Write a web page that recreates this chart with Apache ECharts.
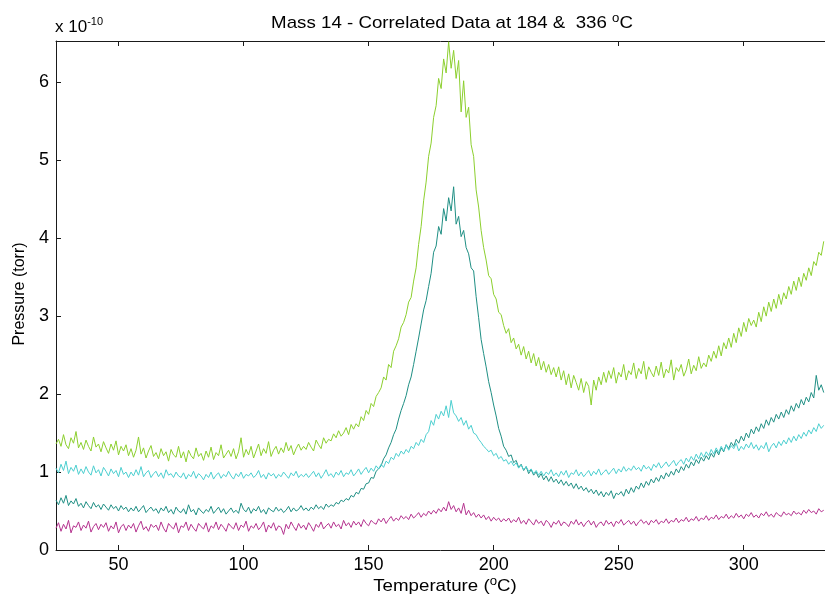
<!DOCTYPE html>
<html>
<head>
<meta charset="utf-8">
<script src="https://cdn.jsdelivr.net/npm/echarts@6/dist/echarts.min.js"></script>
<style>
  html, body { margin: 0; padding: 0; background: #fff; }
  #main { width: 825px; height: 596px; }
</style>
</head>
<body>
<div id="main"></div>
<script>
// temperatures run from 25 to 332 degC in 1 degC steps; values in units of 1e-10 torr
var startTemp = 25;

var xTicks = [50, 100, 150, 200, 250, 300];
var yTicks = [0, 1, 2, 3, 4, 5, 6];

var greenVals = [
  1.36,1.42,1.33,1.48,1.35,1.30,1.44,1.37,1.52,1.31,
  1.38,1.29,1.41,1.33,1.27,1.45,1.32,1.36,1.26,1.39,
  1.31,1.24,1.36,1.28,1.40,1.22,1.33,1.27,1.35,1.21,
  1.30,1.19,1.28,1.45,1.23,1.31,1.18,1.27,1.34,1.20,
  1.25,1.17,1.30,1.21,1.26,1.14,1.29,1.22,1.19,1.33,
  1.18,1.26,1.13,1.28,1.21,1.17,1.31,1.20,1.24,1.15,
  1.27,1.19,1.32,1.16,1.25,1.21,1.35,1.18,1.23,1.28,
  1.20,1.30,1.17,1.26,1.44,1.19,1.29,1.22,1.33,1.18,
  1.27,1.36,1.21,1.30,1.24,1.39,1.20,1.28,1.33,1.23,
  1.31,1.25,1.38,1.27,1.34,1.22,1.30,1.36,1.28,1.33,
  1.29,1.38,1.32,1.27,1.41,1.35,1.30,1.44,1.37,1.42,
  1.40,1.49,1.44,1.53,1.46,1.50,1.57,1.48,1.61,1.55,
  1.62,1.58,1.71,1.66,1.79,1.74,1.88,1.84,1.97,2.02,
  2.08,2.22,2.18,2.38,2.34,2.55,2.62,2.71,2.86,2.92,
  3.02,3.18,3.24,3.45,3.62,3.92,4.15,4.48,4.72,5.05,
  5.22,5.55,5.70,6.05,5.92,6.30,6.12,6.52,6.18,6.41,
  6.05,6.28,5.62,6.02,5.55,5.68,5.20,5.05,4.62,4.40,
  4.10,3.88,3.72,3.52,3.48,3.28,3.22,3.05,3.02,2.88,
  2.78,2.84,2.66,2.72,2.58,2.64,2.50,2.61,2.45,2.55,
  2.40,2.52,2.36,2.47,2.31,2.42,2.28,2.38,2.25,2.34,
  2.22,2.35,2.18,2.30,2.12,2.26,2.08,2.24,2.15,2.05,
  2.20,2.02,2.16,2.10,1.86,2.18,2.05,2.22,2.12,2.28,
  2.15,2.30,2.20,2.34,2.14,2.28,2.22,2.38,2.18,2.30,
  2.25,2.40,2.20,2.33,2.26,2.42,2.19,2.35,2.28,2.22,
  2.36,2.24,2.41,2.21,2.32,2.27,2.44,2.18,2.34,2.29,
  2.38,2.23,2.31,2.45,2.26,2.37,2.30,2.48,2.33,2.40,
  2.35,2.50,2.42,2.55,2.46,2.62,2.49,2.66,2.58,2.72,
  2.60,2.78,2.66,2.85,2.74,2.92,2.80,2.97,2.88,2.95,
  2.86,3.05,2.93,3.12,3.00,3.18,3.06,3.22,3.10,3.28,
  3.15,3.30,3.22,3.38,3.28,3.45,3.33,3.50,3.38,3.55,
  3.46,3.62,3.52,3.70,3.65,3.82,3.78,3.96
];

var tealVals = [
  0.64,0.58,0.67,0.60,0.70,0.57,0.63,0.59,0.66,0.56,
  0.60,0.54,0.62,0.57,0.53,0.61,0.55,0.58,0.52,0.59,
  0.55,0.51,0.58,0.53,0.56,0.50,0.57,0.52,0.55,0.49,
  0.54,0.50,0.56,0.49,0.53,0.57,0.48,0.52,0.55,0.50,
  0.53,0.47,0.54,0.50,0.56,0.48,0.52,0.46,0.55,0.50,
  0.48,0.53,0.46,0.58,0.49,0.52,0.45,0.54,0.50,0.47,
  0.52,0.49,0.56,0.47,0.51,0.55,0.48,0.53,0.46,0.50,
  0.54,0.48,0.51,0.47,0.60,0.52,0.49,0.55,0.47,0.53,
  0.50,0.56,0.48,0.52,0.46,0.54,0.51,0.49,0.55,0.50,
  0.53,0.48,0.51,0.56,0.49,0.54,0.50,0.52,0.57,0.51,
  0.54,0.50,0.55,0.52,0.58,0.53,0.56,0.52,0.59,0.55,
  0.58,0.56,0.61,0.59,0.64,0.62,0.66,0.64,0.70,0.68,
  0.74,0.72,0.79,0.78,0.85,0.86,0.93,0.92,1.01,1.04,
  1.08,1.17,1.22,1.31,1.38,1.48,1.55,1.68,1.79,1.88,
  1.98,2.12,2.22,2.38,2.55,2.72,2.90,3.08,3.20,3.38,
  3.55,3.82,3.90,4.15,4.05,4.38,4.22,4.52,4.35,4.66,
  4.18,4.28,4.02,4.10,3.88,3.80,3.62,3.58,3.25,2.98,
  2.70,2.52,2.35,2.16,2.02,1.86,1.72,1.56,1.46,1.33,
  1.28,1.20,1.22,1.12,1.15,1.06,1.10,1.02,1.07,0.98,
  1.03,0.96,1.00,0.93,0.98,0.90,0.95,0.88,0.94,0.87,
  0.91,0.85,0.90,0.83,0.88,0.82,0.86,0.79,0.85,0.78,
  0.82,0.76,0.80,0.74,0.78,0.72,0.77,0.70,0.75,0.68,
  0.74,0.70,0.76,0.66,0.73,0.71,0.75,0.69,0.78,0.72,
  0.80,0.74,0.82,0.78,0.86,0.80,0.88,0.83,0.91,0.86,
  0.93,0.88,0.96,0.91,0.99,0.94,1.01,0.96,1.04,0.99,
  1.07,1.02,1.10,1.05,1.13,1.08,1.16,1.11,1.19,1.14,
  1.21,1.16,1.24,1.19,1.28,1.22,1.31,1.26,1.35,1.30,
  1.38,1.33,1.42,1.37,1.46,1.40,1.50,1.44,1.55,1.49,
  1.58,1.52,1.62,1.56,1.67,1.60,1.70,1.64,1.74,1.68,
  1.77,1.70,1.80,1.74,1.85,1.78,1.88,1.82,1.93,1.86,
  1.96,1.90,2.02,1.95,2.24,2.05,2.12,2.02
];

var cyanVals = [
  1.05,0.99,1.10,1.02,1.14,0.98,1.06,1.01,1.09,0.97,
  1.04,0.98,1.07,1.00,0.96,1.08,0.99,1.03,0.95,1.06,
  1.01,0.95,1.04,0.98,1.02,0.94,1.06,0.97,1.00,0.93,
  1.00,0.95,1.03,0.96,1.07,0.94,0.99,1.02,0.93,0.98,
  1.01,0.94,0.99,0.92,1.03,0.96,0.98,0.93,1.00,0.95,
  0.93,0.99,0.91,0.97,0.94,1.01,0.92,0.98,0.95,0.90,
  0.97,0.93,1.00,0.91,0.96,0.99,0.92,0.97,0.94,1.01,
  0.95,0.91,0.98,0.94,1.00,0.92,0.97,0.95,0.99,0.93,
  0.96,1.02,0.93,0.97,0.91,0.99,0.95,0.98,0.92,0.97,
  0.94,1.00,0.96,0.92,0.99,0.95,1.01,0.93,0.97,0.94,
  0.98,0.93,0.97,1.01,0.94,0.99,0.92,0.97,1.03,0.95,
  0.98,0.93,1.00,0.96,1.02,0.94,0.99,0.97,1.03,0.95,
  0.99,1.04,0.97,1.02,1.06,0.99,1.05,1.01,1.08,1.04,
  1.10,1.06,1.14,1.11,1.19,1.16,1.24,1.20,1.27,1.23,
  1.29,1.25,1.33,1.30,1.38,1.34,1.42,1.38,1.48,1.52,
  1.66,1.60,1.74,1.68,1.78,1.72,1.85,1.70,1.92,1.76,
  1.72,1.65,1.70,1.60,1.66,1.55,1.60,1.50,1.48,1.42,
  1.38,1.33,1.30,1.26,1.28,1.21,1.24,1.17,1.20,1.14,
  1.16,1.10,1.14,1.08,1.12,1.05,1.09,1.03,1.07,1.01,
  1.04,0.98,1.02,0.96,1.01,0.95,1.00,0.97,1.03,0.95,
  0.99,0.94,1.01,0.96,1.02,0.93,0.99,0.97,1.03,0.95,
  1.00,0.94,0.98,1.02,0.95,1.01,0.97,1.04,0.96,1.00,
  1.03,0.97,1.01,1.05,0.98,1.04,1.00,1.07,1.01,1.05,
  1.02,1.08,1.03,1.06,1.01,1.09,1.04,1.07,1.02,1.10,
  1.06,1.12,1.05,1.09,1.13,1.07,1.11,1.15,1.08,1.13,
  1.16,1.10,1.18,1.13,1.20,1.15,1.23,1.17,1.25,1.19,
  1.26,1.21,1.29,1.23,1.31,1.25,1.33,1.27,1.35,1.28,
  1.34,1.30,1.37,1.27,1.33,1.29,1.36,1.31,1.38,1.30,
  1.35,1.28,1.34,1.30,1.38,1.26,1.33,1.37,1.31,1.39,
  1.34,1.41,1.36,1.44,1.38,1.46,1.40,1.48,1.43,1.51,
  1.46,1.54,1.49,1.57,1.52,1.62,1.56,1.60
];

var magentaVals = [
  0.28,0.35,0.24,0.33,0.27,0.38,0.22,0.31,0.29,0.36,
  0.25,0.32,0.28,0.37,0.23,0.30,0.34,0.26,0.33,0.29,
  0.35,0.24,0.31,0.27,0.36,0.22,0.30,0.33,0.25,0.32,
  0.28,0.34,0.23,0.31,0.37,0.26,0.30,0.24,0.33,0.29,
  0.32,0.25,0.36,0.28,0.23,0.34,0.30,0.27,0.35,0.22,
  0.31,0.29,0.36,0.25,0.33,0.28,0.24,0.34,0.30,0.27,
  0.35,0.23,0.31,0.28,0.36,0.26,0.33,0.29,0.24,0.34,
  0.30,0.27,0.35,0.25,0.32,0.29,0.37,0.24,0.31,0.28,
  0.34,0.26,0.30,0.36,0.23,0.32,0.28,0.35,0.25,0.31,
  0.29,0.20,0.33,0.27,0.36,0.30,0.25,0.34,0.28,0.32,
  0.26,0.35,0.30,0.24,0.33,0.29,0.36,0.27,0.31,0.34,
  0.28,0.36,0.30,0.33,0.27,0.38,0.31,0.35,0.29,0.37,
  0.32,0.36,0.30,0.39,0.34,0.31,0.38,0.35,0.33,0.40,
  0.36,0.41,0.34,0.39,0.43,0.37,0.41,0.38,0.44,0.40,
  0.43,0.39,0.46,0.41,0.44,0.48,0.42,0.47,0.44,0.50,
  0.46,0.51,0.47,0.53,0.49,0.55,0.50,0.62,0.52,0.57,
  0.49,0.54,0.47,0.60,0.45,0.51,0.44,0.48,0.42,0.46,
  0.41,0.45,0.39,0.43,0.37,0.42,0.38,0.41,0.36,0.40,
  0.37,0.41,0.35,0.39,0.36,0.42,0.34,0.38,0.33,0.40,
  0.36,0.32,0.39,0.34,0.37,0.31,0.38,0.35,0.29,0.36,
  0.33,0.38,0.31,0.36,0.34,0.30,0.37,0.33,0.39,0.32,
  0.36,0.30,0.35,0.38,0.32,0.37,0.29,0.34,0.36,0.31,
  0.38,0.33,0.36,0.30,0.37,0.34,0.39,0.32,0.35,0.38,
  0.33,0.37,0.31,0.36,0.39,0.34,0.37,0.32,0.38,0.35,
  0.39,0.33,0.37,0.35,0.40,0.34,0.38,0.36,0.41,0.35,
  0.39,0.37,0.42,0.36,0.40,0.38,0.43,0.37,0.41,0.39,
  0.44,0.38,0.42,0.40,0.45,0.39,0.43,0.41,0.46,0.40,
  0.44,0.41,0.47,0.42,0.45,0.40,0.46,0.43,0.48,0.42,
  0.45,0.41,0.47,0.44,0.49,0.43,0.46,0.42,0.48,0.45,
  0.43,0.49,0.45,0.47,0.44,0.50,0.46,0.48,0.45,0.51,
  0.47,0.52,0.48,0.50,0.46,0.53,0.49,0.51
];

function pairs(vals) {
  var out = [];
  for (var i = 0; i < vals.length; i++) out.push([startTemp + i, vals[i]]);
  return out;
}

function line(name, vals, color) {
  return {
    name: name,
    type: "line",
    xAxisIndex: 0,
    yAxisIndex: 0,
    data: pairs(vals),
    symbol: "none",
    sampling: null,
    lineStyle: { color: color, width: 1 },
    itemStyle: { color: color },
    z: 2
  };
}

var font = "Liberation Sans, Arial, Helvetica, sans-serif";
var axisColor = "#1a1a1a";

var chart = echarts.init(document.getElementById("main"), null, { renderer: "canvas" });

var option = {
  animation: false,
  backgroundColor: "#fff",
  grid: { left: 56, top: 41, right: 0, bottom: 46, containLabel: false },
  xAxis: [{
    type: "value",
    min: 25,
    max: 332.5,
    position: "bottom",
    axisLine: { show: true, onZero: false, lineStyle: { color: axisColor, width: 1 } },
    axisTick: { show: true, inside: true, length: 5, customValues: xTicks, lineStyle: { color: axisColor } },
    axisLabel: { show: true, customValues: xTicks, margin: 6, fontSize: 18, color: "#000", fontFamily: font },
    splitLine: { show: false }
  }, {
    type: "value",
    min: 25,
    max: 332.5,
    position: "top",
    axisLine: { show: true, onZero: false, lineStyle: { color: axisColor, width: 1 } },
    axisTick: { show: true, inside: true, length: 5, customValues: xTicks, lineStyle: { color: axisColor } },
    axisLabel: { show: false },
    splitLine: { show: false }
  }],
  yAxis: [{
    type: "value",
    min: 0,
    max: 6.53,
    position: "left",
    axisLine: { show: true, onZero: false, lineStyle: { color: axisColor, width: 1 } },
    axisTick: { show: true, inside: true, length: 5, customValues: yTicks, lineStyle: { color: axisColor } },
    axisLabel: { show: true, customValues: yTicks, margin: 7, fontSize: 18, color: "#000", fontFamily: font },
    splitLine: { show: false }
  }],
  series: [
    line("m4", magentaVals, "#b5338f"),
    line("m3", tealVals, "#1f8f84"),
    line("m2", cyanVals, "#4ccfd0"),
    line("m1", greenVals, "#8ccf2e")
  ],
  graphic: [
    {
      type: "text",
      x: 452, y: 23,
      scaleX: 1.1,
      style: {
        text: "Mass 14 - Correlated Data at 184 &  336 {s|o}C",
        font: "17px " + font,
        fill: "#000",
        align: "center",
        verticalAlign: "middle",
        rich: { s: { fontSize: 12, padding: [0, 0, 9, 0], fontFamily: font } }
      }
    },
    {
      type: "text",
      x: 55, y: 27,
      style: {
        text: "x 10{s|-10}",
        font: "17px " + font,
        fill: "#000",
        verticalAlign: "middle",
        rich: { s: { fontSize: 11, padding: [0, 0, 10, 0], fontFamily: font } }
      }
    },
    {
      type: "text",
      x: 445, y: 586,
      scaleX: 1.1,
      style: {
        text: "Temperature ({s|o}C)",
        font: "17px " + font,
        fill: "#000",
        align: "center",
        verticalAlign: "middle",
        rich: { s: { fontSize: 12, padding: [0, 0, 9, 0], fontFamily: font } }
      }
    },
    {
      type: "text",
      x: 20, y: 294,
      rotation: Math.PI / 2,
      style: {
        text: "Pressure (torr)",
        font: "16px " + font,
        fill: "#000",
        align: "center",
        verticalAlign: "middle"
      }
    }
  ]
};

chart.setOption(option);
</script>
</body>
</html>
